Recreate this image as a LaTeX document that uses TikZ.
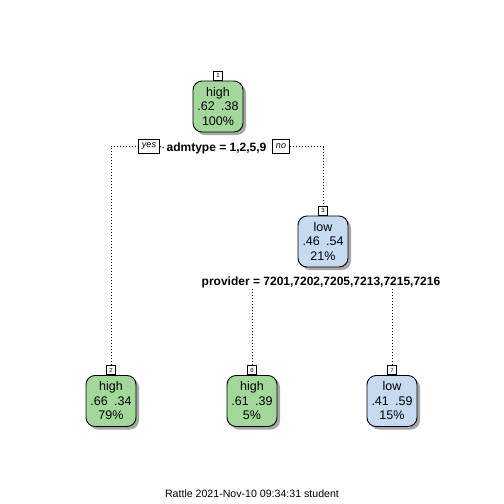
\documentclass[tikz,border=0pt]{standalone}
\usepackage{fontspec}
\setmainfont{Liberation Sans}
\usetikzlibrary{shadows,backgrounds}
\definecolor{leafgreen}{HTML}{A3D89B}
\definecolor{leafblue}{HTML}{C6DBEF}
\tikzset{
  treenode/.style={draw=black, line width=0.9pt, rounded corners=9pt,
    minimum width=50pt, minimum height=51pt, inner sep=0pt, align=center,
    font=\fontsize{12.5}{14.5}\selectfont,
    drop shadow={shadow xshift=3pt, shadow yshift=-3pt, fill=black!35, opacity=1}},
  greennode/.style={treenode, fill=leafgreen},
  bluenode/.style={treenode, fill=leafblue},
  numbox/.style={draw=black, line width=0.7pt, fill=white, inner sep=0pt,
    minimum width=9pt, minimum height=9pt, font=\fontsize{6}{6}\selectfont},
  splitlabel/.style={fill=white, inner sep=1.5pt, font=\fontsize{12}{12}\bfseries\selectfont},
  answer/.style={draw=black, line width=0.7pt, fill=white, inner xsep=3.5pt, inner ysep=0pt,
    minimum height=14pt, font=\fontsize{9}{9}\itshape\selectfont},
  branch/.style={line width=1pt, dotted}
}
\begin{document}
\begin{tikzpicture}[x=1pt, y=-1pt]
\useasboundingbox (0,0) rectangle (504,504);

% tree nodes
\node[greennode] (n1) at (218,106.5) {high\\.62\enspace.38\\100\%};
\node[bluenode]  (n3) at (323,241.5) {low\\.46\enspace.54\\21\%};
\node[greennode] (n2) at (111,401) {high\\.66\enspace.34\\79\%};
\node[greennode] (n6) at (252,401) {high\\.61\enspace.39\\5\%};
\node[bluenode]  (n7) at (392,401) {low\\.41\enspace.59\\15\%};

% node numbers
\node[numbox, anchor=south] (l1) at (n1.north) {1};
\node[numbox, anchor=south] (l3) at (n3.north) {3};
\node[numbox, anchor=south] (l2) at (n2.north) {2};
\node[numbox, anchor=south] (l6) at (n6.north) {6};
\node[numbox, anchor=south] (l7) at (n7.north) {7};

% split labels
\node[splitlabel] (s1) at (216.5,148.5) {admtype = 1,2,5,9};
\node[answer] (yes) at (149,146.5) {yes};
\node[answer] (no) at (281,146.5) {no};
\node[splitlabel] (s3) at (321,282) {provider = 7201,7202,7205,7213,7215,7216};

% title line
\node[font=\fontsize{10.6}{12}\selectfont] (title) at (252,494) {Rattle 2021-Nov-10 09:34:31 student};

% branches
\begin{pgfonlayer}{background}
\draw[branch] (l2.north) |- (yes.west);
\draw[branch] (yes.east) -- (s1.west);
\draw[branch] (no.east) -| (l3.north);
\draw[branch] (l6.north) -- (l6.north |- s3.south);
\draw[branch] (l7.north) -- (l7.north |- s3.south);
\end{pgfonlayer}
\end{tikzpicture}
\end{document}
